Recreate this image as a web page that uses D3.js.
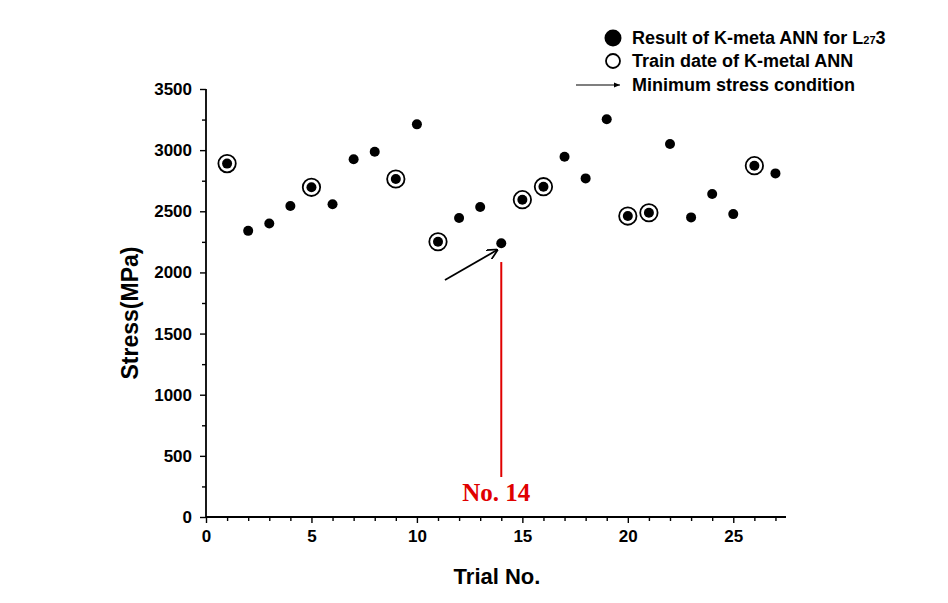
<!DOCTYPE html>
<html><head><meta charset="utf-8">
<script src="https://cdn.jsdelivr.net/npm/d3@7"></script>
<style>body{margin:0;background:#fff}svg{display:block}</style>
</head><body><svg id="c" width="948" height="603"></svg>
<script>
const trials = [1,2,3,4,5,6,7,8,9,10,11,12,13,14,15,16,17,18,19,20,21,22,23,24,25,26,27];
const stress = [2890,2340,2400,2543,2696,2557,2925,2987,2764,3211,2251,2445,2535,2238,2595,2701,2946,2769,3252,2461,2488,3050,2450,2641,2477,2873,2810];
const trainTrials = [1,5,9,11,15,16,20,21,26];
const xTicks = [0,5,10,15,20,25];
const yTicks = [0,500,1000,1500,2000,2500,3000,3500];
const minTrial = 14;
const redLine = [2085, 327];
const arrowFrom = [11.33, 1938], arrowTo = [13.8, 2183];
const legendLabels = ["Result of K-meta ANN for L", "Train date of K-metal ANN", "Minimum stress condition"];

const SANS = "Arial, 'Liberation Sans', sans-serif";
const svg = d3.select("#c").style("font-family", SANS).style("font-weight","bold");
const x = d3.scaleLinear().domain([0,27.5]).range([206,786]);
const y = d3.scaleLinear().domain([0,3500]).range([517,89]);

const defs = svg.append("defs");
defs.append("marker").attr("id","ah").attr("viewBox","0 0 10 10")
  .attr("refX",9).attr("refY",5).attr("markerWidth",6).attr("markerHeight",6).attr("orient","auto")
  .append("path").attr("d","M0,0 L10,5 L0,10").attr("fill","none").attr("stroke","#000").attr("stroke-width",1.6);
defs.append("marker").attr("id","ah2").attr("viewBox","0 0 10 10")
  .attr("refX",10).attr("refY",5).attr("markerWidth",5).attr("markerHeight",5).attr("orient","auto")
  .append("path").attr("d","M0,1 L10,5 L0,9 Z").attr("fill","#000");

// axes
svg.append("g").attr("transform","translate(0,517)")
  .call(d3.axisBottom(x).tickValues(xTicks).tickSize(6).tickPadding(7).tickFormat(d3.format("d")));
svg.append("g").attr("transform","translate(0,517)")
  .call(d3.axisBottom(x).tickValues(d3.range(0,28).filter(v=>v%5)).tickSize(4).tickFormat(""));
svg.append("g").attr("transform","translate(206,0)")
  .call(d3.axisLeft(y).tickValues(yTicks).tickSize(6).tickPadding(8).tickFormat(d3.format("d")));
svg.append("g").attr("transform","translate(206,0)")
  .call(d3.axisLeft(y).tickValues(d3.range(250,3500,500)).tickSize(4).tickFormat(""));
svg.selectAll(".domain").remove();
svg.append("line").attr("x1",x(0)).attr("x2",x(27.5)).attr("y1",517).attr("y2",517).attr("stroke","#000").attr("stroke-width",1.8);
svg.append("line").attr("x1",206).attr("x2",206).attr("y1",y(0)).attr("y2",y(3500)).attr("stroke","#000").attr("stroke-width",1.8);
svg.selectAll(".tick line").attr("stroke","#000").attr("stroke-width",1.4);
svg.selectAll(".tick text").attr("fill","#000").style("font-size","17px").style("font-family",SANS).style("font-weight","bold");

svg.append("text").attr("x",497).attr("y",584).attr("text-anchor","middle").style("font-size","22px").text("Trial No.");
svg.append("text").attr("transform","translate(138,313) rotate(-90)").attr("text-anchor","middle").style("font-size","23px").text("Stress(MPa)");

// points
const data = trials.map((t,i)=>({t, v:stress[i]}));
svg.append("g").selectAll("circle").data(data.filter(d=>trainTrials.includes(d.t))).join("circle")
  .attr("cx",d=>x(d.t)).attr("cy",d=>y(d.v)).attr("r",8.7).attr("fill","#fff").attr("stroke","#000").attr("stroke-width",1.8);
svg.append("g").selectAll("circle").data(data).join("circle")
  .attr("cx",d=>x(d.t)).attr("cy",d=>y(d.v)).attr("r",5).attr("fill","#000");

// red line and label
svg.append("line").attr("x1",x(minTrial)).attr("x2",x(minTrial)).attr("y1",y(redLine[0])).attr("y2",y(redLine[1]))
  .attr("stroke","#e00000").attr("stroke-width",2);
svg.append("text").attr("x",x(minTrial)-5).attr("y",501).attr("text-anchor","middle").attr("fill","#e00000")
  .style("font-family","'Liberation Serif','DejaVu Serif',serif").style("font-size","25px").style("font-weight","bold").text("No. "+minTrial);

// arrow
svg.append("line").attr("x1",x(arrowFrom[0])).attr("y1",y(arrowFrom[1])).attr("x2",x(arrowTo[0])).attr("y2",y(arrowTo[1]))
  .attr("stroke","#000").attr("stroke-width",1.8).attr("marker-end","url(#ah)");

// legend
const lg = svg.append("g");
lg.append("circle").attr("cx",613).attr("cy",38).attr("r",8.5).attr("fill","#000");
const t1 = lg.append("text").attr("x",632).attr("y",44).style("font-size","18px");
t1.append("tspan").text(legendLabels[0]);
t1.append("tspan").style("font-size","11px").text("27");
t1.append("tspan").text("3");
lg.append("circle").attr("cx",613).attr("cy",61).attr("r",7).attr("fill","#fff").attr("stroke","#000").attr("stroke-width",1.8);
lg.append("text").attr("x",632).attr("y",67).style("font-size","18px").text(legendLabels[1]);
lg.append("line").attr("x1",576).attr("x2",620).attr("y1",85).attr("y2",85).attr("stroke","#000").attr("stroke-width",1.2).attr("marker-end","url(#ah2)");
lg.append("text").attr("x",632).attr("y",91).style("font-size","18px").text(legendLabels[2]);
</script></body></html>
